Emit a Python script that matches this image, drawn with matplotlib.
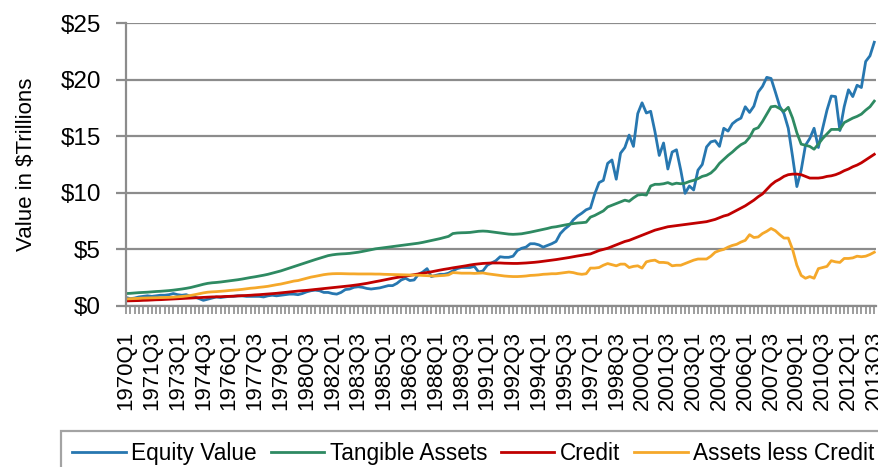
import matplotlib
matplotlib.use("Agg")
import matplotlib.pyplot as plt
import numpy as np

plt.rcParams['font.family'] = ['Liberation Sans', 'DejaVu Sans']

quarters = [f"{y}Q{q}" for y in range(1970, 2014) for q in range(1, 5)][:175]

equity_value = [
    0.75, 0.65, 0.70, 0.80,  0.85, 0.90, 0.85, 0.90,  0.95, 0.95, 1.00, 1.10,
    1.00, 0.95, 1.00, 0.85,  0.80, 0.65, 0.50, 0.60,  0.70, 0.80, 0.75, 0.80,
    0.85, 0.85, 0.90, 0.90,  0.85, 0.85, 0.85, 0.85,  0.80, 0.90, 0.95, 0.90,
    0.95, 1.00, 1.05, 1.05,  1.00, 1.10, 1.25, 1.35,  1.40, 1.35, 1.20, 1.20,
    1.10, 1.05, 1.20, 1.45,  1.50, 1.65, 1.70, 1.65,  1.55, 1.50, 1.55, 1.60,
    1.70, 1.80, 1.80, 2.00,  2.30, 2.45, 2.25, 2.30,  2.80, 3.00, 3.30, 2.60,
    2.70, 2.80, 2.80, 2.90,  3.10, 3.30, 3.40, 3.40,  3.40, 3.50, 3.00, 3.10,
    3.60, 3.80, 4.00, 4.35,  4.30, 4.30, 4.40, 4.90,  5.10, 5.20, 5.50, 5.50,
    5.40, 5.20, 5.35, 5.50,  5.70, 6.40, 6.80, 7.10,  7.60, 7.95, 8.20, 8.50,
    8.65, 9.90, 10.90, 11.10,  12.60, 12.90, 11.20, 13.50,  14.00, 15.10, 14.10, 17.00,
    17.95, 17.05, 17.20, 15.40,  13.30, 14.40, 12.10, 13.60,  13.80, 12.00, 9.95, 10.60,
    10.25, 12.00, 12.50, 14.05,  14.50, 14.60, 14.10, 15.70,  15.45, 16.10, 16.40, 16.60,
    17.60, 17.10, 17.65, 18.90,  19.40, 20.20, 20.10, 18.90,  17.65, 17.00, 15.70, 13.20,
    10.55, 12.00, 14.20, 14.80,  15.70, 14.00, 15.70, 17.30,  18.55, 18.50, 15.50, 17.60,
    19.10, 18.50, 19.50, 19.30,  21.60, 22.10, 23.30,
]

tangible_assets = [
    1.10, 1.12, 1.15, 1.18,  1.20, 1.22, 1.25, 1.28,  1.30, 1.33, 1.36, 1.40,
    1.45, 1.50, 1.56, 1.63,  1.72, 1.82, 1.92, 2.00,  2.05, 2.08, 2.12, 2.17,
    2.22, 2.27, 2.32, 2.38,  2.45, 2.52, 2.58, 2.65,  2.72, 2.80, 2.90, 3.00,
    3.10, 3.22, 3.35, 3.48,  3.60, 3.72, 3.85, 3.98,  4.10, 4.22, 4.35, 4.45,
    4.52, 4.57, 4.60, 4.62,  4.65, 4.70, 4.75, 4.82,  4.90, 4.98, 5.05, 5.10,
    5.15, 5.20, 5.25, 5.30,  5.35, 5.40, 5.45, 5.50,  5.55, 5.62, 5.70, 5.78,
    5.85, 5.95, 6.05, 6.15,  6.40, 6.45, 6.47, 6.48,  6.50, 6.55, 6.60, 6.62,
    6.60, 6.55, 6.50, 6.45,  6.40, 6.35, 6.33, 6.35,  6.38, 6.45, 6.52, 6.60,
    6.68, 6.75, 6.85, 6.95,  7.00, 7.08, 7.15, 7.22,  7.28, 7.33, 7.36, 7.40,
    7.85, 8.00, 8.20, 8.40,  8.75, 8.90, 9.05, 9.20,  9.35, 9.25, 9.55, 9.80,
    9.85, 9.80, 10.60, 10.75,  10.75, 10.80, 10.90, 10.75,  10.85, 10.80, 10.85, 11.00,
    11.10, 11.25, 11.45, 11.55,  11.75, 12.10, 12.60, 12.95,  13.30, 13.60, 13.95, 14.25,
    14.45, 14.90, 15.60, 15.75,  16.30, 16.95, 17.60, 17.65,  17.45, 17.20, 17.55, 16.60,
    15.30, 14.30, 14.20, 14.10,  13.85, 14.30, 14.80, 15.20,  15.60, 15.60, 15.60, 16.20,
    16.40, 16.60, 16.75, 16.95,  17.30, 17.60, 18.10,
]

credit = [
    0.45, 0.46, 0.47, 0.48,  0.50, 0.51, 0.53, 0.55,  0.56, 0.58, 0.60, 0.62,
    0.64, 0.66, 0.68, 0.70,  0.72, 0.74, 0.76, 0.78,  0.80, 0.81, 0.82, 0.84,
    0.85, 0.87, 0.89, 0.91,  0.93, 0.95, 0.98, 1.00,  1.03, 1.06, 1.09, 1.12,
    1.16, 1.20, 1.24, 1.28,  1.32, 1.35, 1.38, 1.42,  1.46, 1.50, 1.54, 1.58,
    1.62, 1.66, 1.70, 1.74,  1.78, 1.83, 1.88, 1.94,  2.00, 2.08, 2.15, 2.22,
    2.30, 2.38, 2.45, 2.52,  2.58, 2.64, 2.70, 2.77,  2.83, 2.90, 2.96, 3.02,
    3.10, 3.17, 3.24, 3.30,  3.37, 3.43, 3.49, 3.55,  3.62, 3.68, 3.72, 3.76,
    3.78, 3.80, 3.80, 3.80,  3.78, 3.77, 3.76, 3.76,  3.78, 3.80, 3.83, 3.86,
    3.90, 3.95, 4.00, 4.05,  4.10, 4.16, 4.22, 4.28,  4.35, 4.42, 4.48, 4.55,
    4.60, 4.75, 4.90, 5.00,  5.10, 5.25, 5.40, 5.55,  5.70, 5.80, 5.95, 6.10,
    6.25, 6.40, 6.55, 6.70,  6.80, 6.90, 7.00, 7.05,  7.10, 7.15, 7.20, 7.25,
    7.30, 7.35, 7.40, 7.45,  7.55, 7.65, 7.80, 7.95,  8.05, 8.25, 8.45, 8.65,
    8.85, 9.10, 9.35, 9.65,  9.90, 10.30, 10.70, 11.00,  11.20, 11.45, 11.60, 11.65,
    11.65, 11.60, 11.45, 11.30,  11.30, 11.30, 11.35, 11.45,  11.50, 11.60, 11.75, 11.95,
    12.10, 12.30, 12.45, 12.65,  12.90, 13.15, 13.40,
]

assets_less_credit = [
    0.62, 0.64, 0.66, 0.68,  0.70, 0.71, 0.72, 0.73,  0.74, 0.75, 0.76, 0.78,
    0.81, 0.84, 0.88, 0.93,  1.00, 1.08, 1.16, 1.22,  1.25, 1.27, 1.30, 1.33,
    1.37, 1.40, 1.43, 1.47,  1.52, 1.57, 1.60, 1.65,  1.69, 1.74, 1.81, 1.88,
    1.94, 2.02, 2.11, 2.20,  2.25, 2.35, 2.45, 2.55,  2.62, 2.70, 2.77, 2.82,
    2.85, 2.86, 2.86, 2.85,  2.84, 2.84, 2.83, 2.83,  2.83, 2.83, 2.82, 2.82,
    2.80, 2.79, 2.78, 2.77,  2.76, 2.75, 2.74, 2.73,  2.72, 2.70, 2.68, 2.66,
    2.65, 2.68, 2.70, 2.75,  2.95, 2.93, 2.90, 2.90,  2.90, 2.88, 2.90, 2.92,
    2.85, 2.80, 2.75, 2.70,  2.65, 2.62, 2.60, 2.60,  2.62, 2.65, 2.70, 2.72,
    2.75, 2.80, 2.82, 2.85,  2.85, 2.90, 2.95, 3.00,  2.95, 2.85, 2.80, 2.85,
    3.35, 3.35, 3.40, 3.60,  3.75, 3.65, 3.55, 3.70,  3.70, 3.40, 3.50, 3.55,
    3.35, 3.90, 4.00, 4.05,  3.85, 3.85, 3.80, 3.55,  3.60, 3.60, 3.75, 3.90,
    4.05, 4.15, 4.15, 4.15,  4.40, 4.75, 4.90, 5.00,  5.20, 5.35, 5.45, 5.65,
    5.80, 6.30, 6.05, 6.10,  6.40, 6.60, 6.85, 6.65,  6.30, 6.00, 6.00, 5.00,
    3.60, 2.70, 2.45, 2.60,  2.45, 3.30, 3.40, 3.50,  4.00, 3.90, 3.85, 4.20,
    4.20, 4.25, 4.40, 4.35,  4.40, 4.55, 4.75,
]

series = [
    ("Equity Value", equity_value, "#2777B0"),
    ("Tangible Assets", tangible_assets, "#2E8A62"),
    ("Credit", credit, "#C00000"),
    ("Assets less Credit", assets_less_credit, "#F5A82A"),
]

y_ticks = [0, 5, 10, 15, 20, 25]
y_tick_labels = ["$0", "$5", "$10", "$15", "$20", "$25"]

fig = plt.figure(figsize=(8.79, 4.67), dpi=100)
ax = fig.add_axes([126 / 879, 1 - 306 / 467, 750 / 879, 283 / 467])

x = np.arange(len(quarters))
handles = []
for name, vals, color in series:
    h, = ax.plot(x, vals, color=color, lw=2.0, label=name, solid_joinstyle='round')
    handles.append(h)

grid_c = "#8C8C8C"
ax.set_ylim(0, 25)
ax.set_xlim(0, len(quarters) - 0.6)
ax.set_yticks(y_ticks)
ax.set_yticklabels(y_tick_labels, fontsize=17.5)
ax.yaxis.grid(True, color=grid_c, lw=1.6)
ax.set_axisbelow(True)

major = list(range(0, len(quarters), 6))
ax.set_xticks(major)
ax.set_xticklabels([quarters[i] for i in major], rotation=90, fontsize=16)
ax.set_xticks(x, minor=True)
ax.tick_params(axis='x', which='both', length=6, width=1.2, color=grid_c, pad=12)
ax.tick_params(axis='y', which='major', length=7, width=1.6, color=grid_c, pad=11)

for s in ['top', 'right']:
    ax.spines[s].set_visible(False)
for s in ['left', 'bottom']:
    ax.spines[s].set_color(grid_c)
    ax.spines[s].set_linewidth(1.6)

fig.text(27 / 879, 1 - 164 / 467, "Value in $Trillions", rotation=90,
         ha='center', va='center', fontsize=16)

leg = fig.legend(handles=handles, loc='upper left',
                 bbox_to_anchor=(61 / 879, 1 - 431 / 467), ncol=4,
                 fontsize=16.3, frameon=True, fancybox=False,
                 handlelength=2.35, handletextpad=0.25, columnspacing=0.62,
                 borderpad=0.5, borderaxespad=0.0)
leg.get_frame().set_edgecolor(grid_c)
leg.get_frame().set_linewidth(1.6)

fig.savefig("out.png", dpi=100)
